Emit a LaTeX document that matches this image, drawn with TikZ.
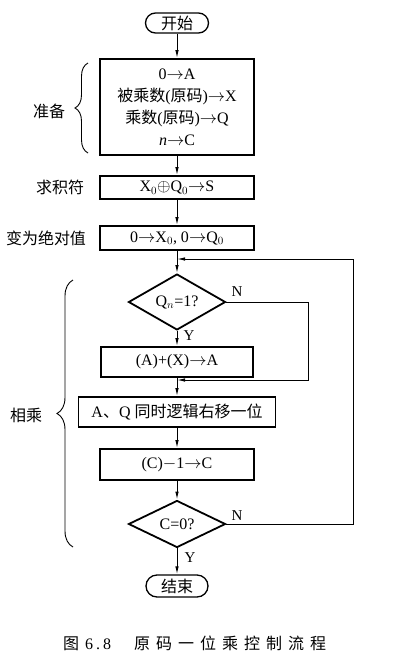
\documentclass[tikz,border=0pt]{standalone}
\usepackage{fontspec}
\setmainfont{Liberation Serif}
\newfontfamily\cjk{Noto Sans CJK SC}
\usetikzlibrary{arrows.meta,shapes.geometric,decorations.pathreplacing}
\newcommand\zh[1]{{\cjk #1}}
\begin{document}
\begin{tikzpicture}[x=1pt,y=-1pt,
  txt/.style={font=\fontsize{16}{22}\selectfont},
  proc/.style={draw, line width=1.8pt, inner sep=0pt, txt},
  term/.style={draw, line width=1.3pt, inner sep=0pt, rounded corners=10pt, txt},
  dec/.style={diamond, draw, line width=1.8pt, inner sep=0pt, minimum width=97pt, minimum height=47pt, txt},
  flow/.style={line width=1pt, -{Latex[length=8pt,width=3.5pt]}},
  yn/.style={inner sep=0pt, font=\fontsize{15}{16}\selectfont},
  lab/.style={inner sep=0pt, txt},
  brc/.style={decorate, line width=0.9pt}]
\useasboundingbox (0,0) rectangle (416,662);

\node[term, minimum width=63pt, minimum height=20pt] (start) at (177,23) {\zh{开始}};
\node[proc, minimum width=154pt, minimum height=96pt, align=center] (prep) at (177,107)
  {0$\to$A\\ \zh{被乘数}(\zh{原码})$\to$X\\ \zh{乘数}(\zh{原码})$\to$Q\\ \textit{n}$\to$C};
\node[proc, minimum width=154pt, minimum height=23pt] (b2) at (177,187.5) {X$_0$$\oplus$Q$_0$$\to$S};
\node[proc, minimum width=154pt, minimum height=24pt] (b3) at (177,238) {0$\to$X$_0$, 0$\to$Q$_0$};
\node[dec] (d1) at (177,302) {Q$_n$=1?};
\node[proc, minimum width=152pt, minimum height=30pt] (b4) at (177,362) {(A)+(X)$\to$A};
\node[proc, minimum width=197pt, minimum height=30pt] (b5) at (177,412) {A\zh{、}Q \zh{同时逻辑右移一位}};
\node[proc, minimum width=154pt, minimum height=31pt] (b6) at (177,464.5) {(C)$-$1$\to$C};
\node[dec] (d2) at (177,524) {C=0?};
\node[term, minimum width=62pt, minimum height=22pt, rounded corners=11pt] (end) at (177,586) {\zh{结束}};

\coordinate (j1) at (177,259);
\coordinate (j2) at (177,380);
\coordinate (r1) at (308,380);
\coordinate (r2) at (353,259);

\draw[flow] (start) -- (prep);
\draw[flow] (prep) -- (b2);
\draw[flow] (b2) -- (b3);
\draw[flow] (b3) -- (d1);
\draw[flow] (d1) -- (b4);
\draw[flow] (b4) -- (b5);
\draw[flow] (b5) -- (b6);
\draw[flow] (b6) -- (d2);
\draw[flow] (d2) -- (end);
\draw[flow] (d1.east) -| (r1) -- (j2);
\draw[flow] (d2.east) -| (r2) -- (j1);

\node[yn] (n1) at (237,292) {N};
\node[yn] (y1) at (189,336) {Y};
\node[yn] (n2) at (237,516) {N};
\node[yn] (y2) at (190,558) {Y};

\coordinate (p1) at (88,153);
\coordinate (p2) at (88,63);
\coordinate (q1) at (73,547);
\coordinate (q2) at (73,280);
\draw[brc, decoration={brace, amplitude=13pt}] (p1) -- (p2);
\draw[brc, decoration={brace, amplitude=16pt}] (q1) -- (q2);

\node[lab] (l1) at (49,111) {\zh{准备}};
\node[lab] (l2) at (60,187) {\zh{求积符}};
\node[lab] (l3) at (46,238) {\zh{变为绝对值}};
\node[lab] (l4) at (26,415) {\zh{相乘}};

\node[lab, anchor=west] (cap) at (63,643)
  {\zh{图}\kern6pt 6\kern3pt.\kern3pt 8\kern23pt\zh{原\kern6pt 码\kern6pt 一\kern6pt 位\kern6pt 乘\kern6pt 控\kern6pt 制\kern6pt 流\kern6pt 程}};
\end{tikzpicture}
\end{document}
